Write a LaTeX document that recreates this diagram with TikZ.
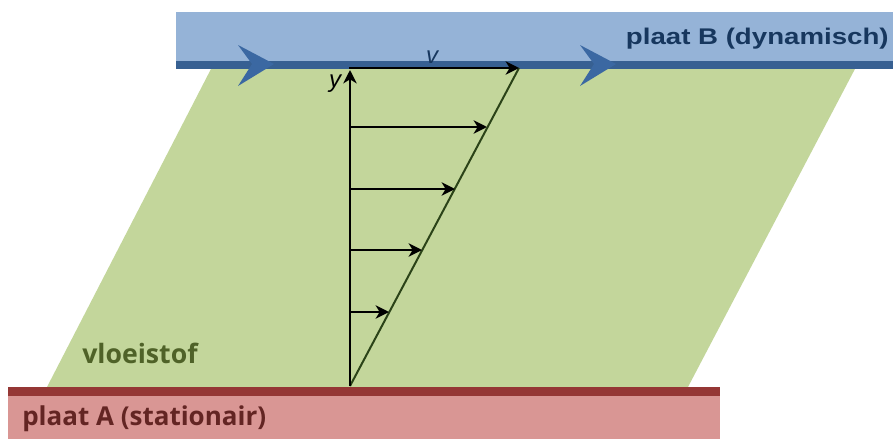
\documentclass[tikz,border=0pt]{standalone}
\usepackage{fontspec}
\newfontfamily\lsans{Liberation Sans}
\newfontfamily\osans{Open Sans}
\usetikzlibrary{arrows.meta}
\definecolor{plateB}{HTML}{95B3D7}
\definecolor{plateBline}{HTML}{376092}
\definecolor{chev}{HTML}{3B68A2}
\definecolor{fluid}{HTML}{C3D69B}
\definecolor{plateA}{HTML}{D99694}
\definecolor{plateAline}{HTML}{953735}
\definecolor{txtB}{HTML}{17375E}
\definecolor{txtG}{HTML}{4F6228}
\definecolor{txtA}{HTML}{632523}
\definecolor{diag}{HTML}{2B4318}
\begin{document}
\begin{tikzpicture}[x=0.75pt,y=-0.75pt,
  vec/.style={line width=1.9pt,-{Stealth[length=10pt,width=10pt,inset=3pt]}},
  chevron/.style={fill=chev},
  lbl/.style={inner sep=0pt,font=\lsans\itshape\fontsize{18}{18}\selectfont}]
\useasboundingbox (0,0) rectangle (893,439);
% fluid
\fill[fluid] (47,387) -- (212,67) -- (856,67) -- (688,387) -- cycle;
% plate B
\fill[plateB] (176,12) rectangle (893,69);
\fill[plateBline] (176,61) rectangle (893,69);
\fill[chevron] (238,45) -- (274,64) -- (238,86) -- (252,64) -- cycle;
\fill[chevron] (580,45) -- (616,64) -- (580,86) -- (594,64) -- cycle;
% plate A
\fill[plateA] (8,387) rectangle (720,439);
\fill[plateAline] (8,387) rectangle (720,396);
% velocity profile
\coordinate (O) at (350,386);
\coordinate (Ytop) at (350,70);
\coordinate (S0) at (349,68);
\coordinate (Vtip) at (519,68);
\draw[diag,line width=1.5pt] (O) -- (Vtip);
\draw[vec] (O) -- (Ytop);
\draw[vec] (S0) -- (Vtip);
\coordinate (S1) at (350,127); \coordinate (T1) at (487,127);
\coordinate (S2) at (350,189); \coordinate (T2) at (455,189);
\coordinate (S3) at (350,250); \coordinate (T3) at (422,250);
\coordinate (S4) at (350,312); \coordinate (T4) at (389,312);
\draw[vec] (S1) -- (T1);
\draw[vec] (S2) -- (T2);
\draw[vec] (S3) -- (T3);
\draw[vec] (S4) -- (T4);
% labels
\node[lbl,text=txtB,anchor=base] (v) at (432,63) {v};
\node[lbl,text=black,anchor=base] (y) at (335,87) {y};
\node[inner sep=0pt,anchor=base east,text=txtB,xscale=1.22,transform shape,
  font=\lsans\bfseries\fontsize{17}{17}\selectfont] (B) at (889,44) {plaat B (dynamisch)};
\node[inner sep=0pt,anchor=base west,text=txtG,
  font=\osans\bfseries\fontsize{20}{20}\selectfont] (fl) at (82,363) {vloeistof};
\node[inner sep=0pt,anchor=base west,text=txtA,
  font=\osans\bfseries\fontsize{19.5}{19.5}\selectfont] (A) at (22,425) {plaat A (stationair)};
\end{tikzpicture}
\end{document}
